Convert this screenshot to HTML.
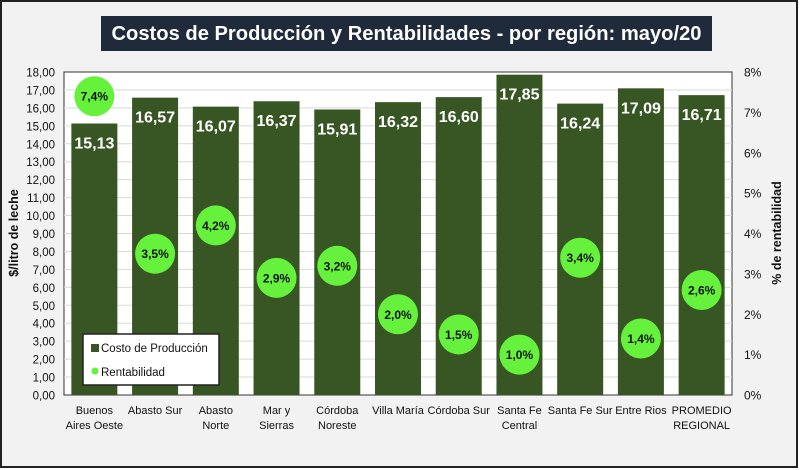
<!DOCTYPE html>
<html><head><meta charset="utf-8"><style>
body{margin:0;background:#fff}
svg{display:block;font-family:"Liberation Sans",Arial,sans-serif}
</style></head><body>
<svg id="c" width="800" height="470">
<rect x="1" y="1" width="796" height="466" fill="#f2f2f2" stroke="#222" stroke-width="2"/>
<rect x="101" y="16" width="611" height="35" fill="#1f2a3a"/>
<text x="406.5" y="40" text-anchor="middle" fill="#fff" font-size="20" font-weight="bold" textLength="590" lengthAdjust="spacingAndGlyphs">Costos de Producción y Rentabilidades - por región: mayo/20</text>
<rect x="64" y="72" width="668" height="323" fill="#fff" stroke="#333" stroke-width="1"/>
<g id="grid"></g><g id="bars"></g><g id="dots"></g><g id="axes"></g>
<text transform="translate(18,233) rotate(-90)" text-anchor="middle" font-size="12.5" font-weight="bold" fill="#111">$/litro de leche</text>
<text transform="translate(781,233) rotate(-90)" text-anchor="middle" font-size="12.5" font-weight="bold" fill="#111">% de rentabilidad</text>
<g>
<rect x="83" y="334" width="136" height="51" fill="#fff" stroke="#222" stroke-width="1.5"/>
<rect x="91" y="344" width="8" height="8" fill="#375623"/>
<text x="101" y="352" font-size="11.5" fill="#111">Costo de Producción</text>
<circle cx="95" cy="371" r="3.5" fill="#66f23c"/>
<text x="101" y="376" font-size="11.5" fill="#111">Rentabilidad</text>
</g>
</svg>
<script>
const categories=[["Buenos","Aires Oeste"],["Abasto Sur"],["Abasto","Norte"],["Mar y","Sierras"],["Córdoba","Noreste"],["Villa María"],["Córdoba Sur"],["Santa Fe","Central"],["Santa Fe Sur"],["Entre Rios"],["PROMEDIO","REGIONAL"]];
const costs=[15.13,16.57,16.07,16.37,15.91,16.32,16.60,17.85,16.24,17.09,16.71];
const rent=[7.4,3.5,4.2,2.9,3.2,2.0,1.5,1.0,3.4,1.4,2.6];
const leftTicks=[0,1,2,3,4,5,6,7,8,9,10,11,12,13,14,15,16,17,18];
const rightTicks=[0,1,2,3,4,5,6,7,8];
const NS="http://www.w3.org/2000/svg";
const X0=64,X1=732,Y0=395,Y1=72;
const band=(X1-X0)/categories.length;
const y=v=>Y0-(v/18)*(Y0-Y1);
const y2=v=>Y0-(v/8)*(Y0-Y1);
const xc=i=>X0+band*(i+0.5);
function mk(tag,attrs,parent,txt){const e=document.createElementNS(NS,tag);for(const k in attrs)e.setAttribute(k,attrs[k]);if(txt!==undefined)e.textContent=txt;document.getElementById(parent).appendChild(e);return e;}
const fmt=v=>v.toFixed(2).replace('.',',');
leftTicks.forEach(t=>{
 if(t>0&&t<18){const g=mk('line',{x1:X0,x2:X1,y1:y(t),y2:y(t),stroke:'#d9d9d9','stroke-width':1},'grid');
 
 }
 const l=mk('text',{x:55,y:y(t)+4.5,'text-anchor':'end','font-size':11.5,fill:'#111'},'axes',fmt(t));
 
 
});
rightTicks.forEach(t=>{
 const l=mk('text',{x:744,y:y2(t)+4.5,'font-size':12,fill:'#111'},'axes',t+'%');
 
 
});
costs.forEach((v,i)=>{
 const bw=46;
 const r=mk('rect',{x:xc(i)-bw/2,y:y(v),width:bw,height:Y0-y(v),fill:'#375623'},'bars');
 
 
 const t=mk('text',{x:xc(i),y:y(v)+25,'text-anchor':'middle','font-size':16,'font-weight':'bold',fill:'#fff'},'bars',fmt(v));
 
 
 categories[i].forEach((ln,k)=>{
  const c=mk('text',{x:xc(i),y:414+k*15,'text-anchor':'middle','font-size':11,fill:'#111'},'axes',ln);
  
  
 });
});
rent.forEach((v,i)=>{
 const c=mk('circle',{cx:xc(i),cy:y2(v),r:20,fill:'#66f23c'},'dots');
 
 
 const t=mk('text',{x:xc(i),y:y2(v)+4.5,'text-anchor':'middle','font-size':12,'font-weight':'bold',fill:'#111'},'dots',v.toFixed(1).replace('.',',')+'%');
 
 
});
</script>
</body></html>
